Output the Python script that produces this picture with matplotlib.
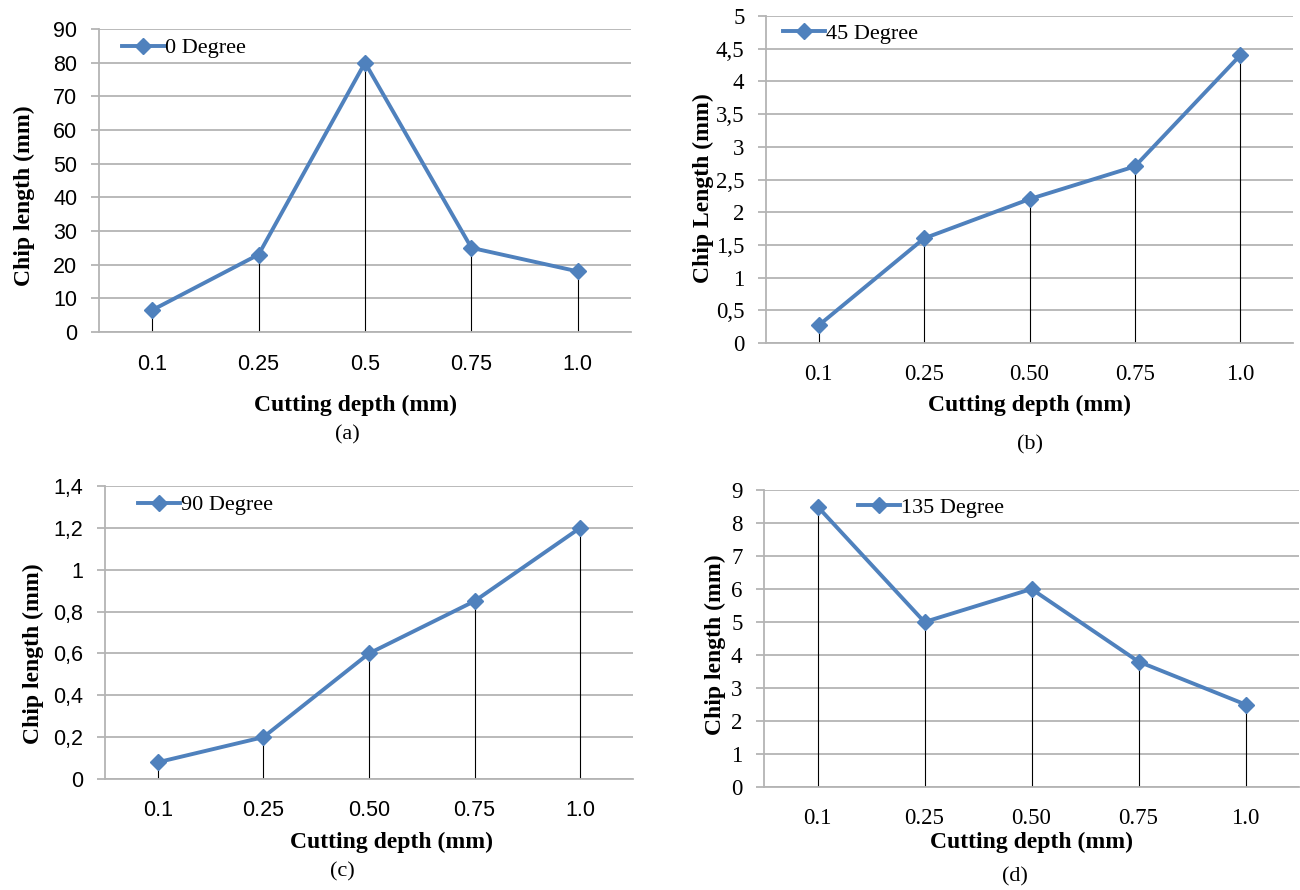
import matplotlib.pyplot as plt
from matplotlib.ticker import FuncFormatter

# colors
excel_blue = '#4F81BD'
grid_gray = '#B4B4B4'

# data
cats_a = ['0.1', '0.25', '0.5', '0.75', '1.0']
cats_b = ['0.1', '0.25', '0.50', '0.75', '1.0']
chip_0 = [6.5, 23, 80, 25, 18]
chip_45 = [0.27, 1.6, 2.2, 2.7, 4.4]
chip_90 = [0.08, 0.2, 0.6, 0.85, 1.2]
chip_135 = [8.5, 5.0, 6.0, 3.8, 2.5]

serif = 'Liberation Serif'
sans = 'Liberation Sans'


def comma(v, pos):
    s = ('%.1f' % v).rstrip('0').rstrip('.')
    return s.replace('.', ',')


def panel(ax, cats, vals, ymax, ystep, label, ylab, tickfont, leg_xy, xpad, fmt=None):
    x = range(len(cats))
    ax.vlines(x, 0, vals, color='black', lw=0.8, zorder=2)
    ax.plot(x, vals, color=excel_blue, lw=2.8, marker='D', ms=8, label=label, zorder=3)
    ax.set_xlim(-0.5, len(cats) - 0.5)
    ax.set_ylim(0, ymax)
    ticks = [i * ystep for i in range(int(round(ymax / ystep)) + 1)]
    ax.set_yticks(ticks)
    if fmt:
        ax.yaxis.set_major_formatter(FuncFormatter(fmt))
    ax.set_xticks(list(x))
    ax.set_xticklabels(cats)
    ax.grid(axis='y', color=grid_gray, lw=1.3)
    ax.set_axisbelow(True)
    for s in ['top', 'right']:
        ax.spines[s].set_visible(False)
    for s in ['left', 'bottom']:
        ax.spines[s].set_color(grid_gray)
        ax.spines[s].set_linewidth(1.3)
    ax.tick_params(axis='y', length=5.5, color=grid_gray, width=1.3, pad=10)
    ax.tick_params(axis='x', length=0, pad=xpad)
    size = 15.5 if tickfont == sans else 16.5
    for t in ax.get_xticklabels() + ax.get_yticklabels():
        t.set_fontfamily(tickfont)
        t.set_fontsize(size)
    ax.set_ylabel(ylab, fontfamily=serif, fontweight='bold', fontsize=17)
    ax.legend(loc='center left', bbox_to_anchor=leg_xy, frameon=False,
              handlelength=1.9, handletextpad=0.05, borderpad=0, borderaxespad=0,
              prop={'family': serif, 'size': 16})


fig = plt.figure(figsize=(13, 8.9), dpi=100)

ax_a = fig.add_axes([99 / 1300, 1 - 332 / 890, 532 / 1300, 303 / 890])
panel(ax_a, cats_a, chip_0, 90, 10, '0 Degree', 'Chip length (mm)', sans, (0.043, 0.937), 16)
ax_a.yaxis.set_label_coords(-0.12, 0.45)

ax_b = fig.add_axes([766 / 1300, 1 - 343 / 890, 527 / 1300, 327 / 890])
panel(ax_b, cats_b, chip_45, 5, 0.5, '45 Degree', 'Chip Length (mm)', serif, (0.032, 0.945), 15, comma)
ax_b.yaxis.set_label_coords(-0.098, 0.475)

ax_c = fig.add_axes([105 / 1300, 1 - 779 / 890, 528 / 1300, 293 / 890])
panel(ax_c, cats_b, chip_90, 1.4, 0.2, '90 Degree', 'Chip length (mm)', sans, (0.062, 0.935), 15, comma)
ax_c.yaxis.set_label_coords(-0.115, 0.427)

ax_d = fig.add_axes([764 / 1300, 1 - 787 / 890, 535 / 1300, 297 / 890])
panel(ax_d, cats_b, chip_135, 9, 1, '135 Degree', 'Chip length (mm)', serif, (0.176, 0.94), 15)
ax_d.yaxis.set_label_coords(-0.071, 0.48)

# x labels and captions
xlab = dict(fontfamily=serif, fontweight='bold', fontsize=17, ha='center', va='center')
cap = dict(fontfamily=serif, fontsize=16, ha='center', va='center')
fig.text(356 / 1300, 1 - 405 / 890, 'Cutting depth (mm)', **xlab)
fig.text(347 / 1300, 1 - 435 / 890, '(a)', **cap)
fig.text(1029 / 1300, 1 - 405 / 890, 'Cutting depth (mm)', **xlab)
fig.text(1030 / 1300, 1 - 445 / 890, '(b)', **cap)
fig.text(392 / 1300, 1 - 842 / 890, 'Cutting depth (mm)', **xlab)
fig.text(342 / 1300, 1 - 872 / 890, '(c)', **cap)
fig.text(1032 / 1300, 1 - 842 / 890, 'Cutting depth (mm)', **xlab)
fig.text(1015 / 1300, 1 - 877 / 890, '(d)', **cap)

plt.savefig('out.png', dpi=100)
